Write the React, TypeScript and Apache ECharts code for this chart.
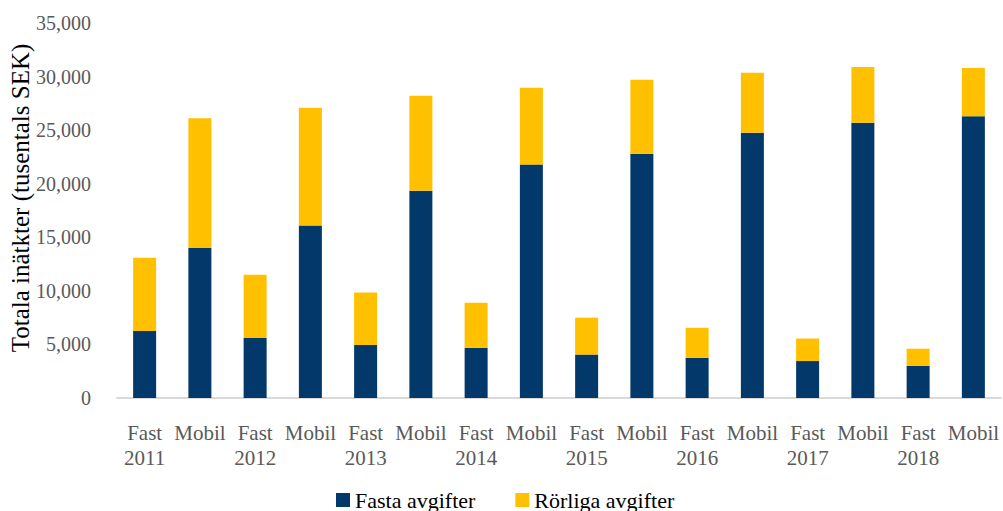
import React, { useEffect, useRef } from "react";
import * as echarts from "echarts";

const years = ["2011", "2012", "2013", "2014", "2015", "2016", "2017", "2018"];
const types = ["Fast", "Mobil"];
const categories = years.flatMap((y) => types.map((t) => `${t}|${y}`));
const fastaAvgifter = [6250, 14000, 5600, 16100, 4950, 19350, 4700, 21800, 4050, 22800, 3750, 24750, 3450, 25700, 3000, 26300];
const totalt = [13100, 26100, 11500, 27100, 9850, 28200, 8900, 28950, 7500, 29700, 6550, 30350, 5550, 30900, 4600, 30800];
const rorligaAvgifter = totalt.map((t, i) => t - fastaAvgifter[i]);
const seriesNames = ["Fasta avgifter", "Rörliga avgifter"];
const yTicks = { min: 0, max: 35000, interval: 5000 };

const FONT = "Liberation Serif";

export default function App() {
  const ref = useRef<HTMLDivElement>(null);
  useEffect(() => {
    if (!ref.current) return;
    const chart = echarts.init(ref.current, null, { renderer: "svg" });
    chart.setOption({
      animation: false,
      backgroundColor: "#fff",
      textStyle: { fontFamily: FONT },
      grid: { left: 117, right: 2, top: 23, bottom: 113 },
      xAxis: {
        type: "category",
        data: categories,
        axisLine: { lineStyle: { color: "#D9D9D9", width: 2 } },
        axisTick: { show: false },
        axisLabel: {
          interval: 0,
          margin: 22,
          fontFamily: FONT,
          fontSize: 21,
          lineHeight: 25,
          color: "#595959",
          formatter: (v: string) => {
            const [t, y] = v.split("|");
            return t === "Fast" ? `${t}\n${y}` : `${t}\n `;
          },
        },
      },
      yAxis: {
        type: "value",
        min: yTicks.min,
        max: yTicks.max,
        interval: yTicks.interval,
        splitLine: { show: false },
        axisLine: { show: false },
        axisTick: { show: false },
        axisLabel: {
          margin: 26,
          fontFamily: FONT,
          fontSize: 20,
          color: "#595959",
          formatter: (v: number) => v.toLocaleString("en-US"),
        },
      },
      legend: {
        left: 336,
        top: 489,
        padding: 0,
        itemWidth: 14,
        itemHeight: 14,
        itemGap: 40,
        icon: "rect",
        textStyle: { fontFamily: FONT, fontSize: 22, color: "#000" },
        data: seriesNames,
      },
      graphic: [
        {
          type: "text",
          x: 20,
          y: 198,
          rotation: Math.PI / 2,
          style: {
            text: "Totala inätkter (tusentals SEK)",
            fontFamily: FONT,
            fontSize: 25,
            fill: "#000",
            textAlign: "center",
            textVerticalAlign: "middle",
          },
        },
      ],
      series: [
        {
          name: seriesNames[0],
          type: "bar",
          stack: "total",
          barWidth: 23,
          data: fastaAvgifter,
          itemStyle: { color: "#02386A" },
        },
        {
          name: seriesNames[1],
          type: "bar",
          stack: "total",
          barWidth: 23,
          data: rorligaAvgifter,
          itemStyle: { color: "#FFC000" },
        },
      ],
    });
    return () => chart.dispose();
  }, []);
  return <div ref={ref} style={{ width: 1003, height: 511, position: "absolute", left: 0, top: 0 }} />;
}
